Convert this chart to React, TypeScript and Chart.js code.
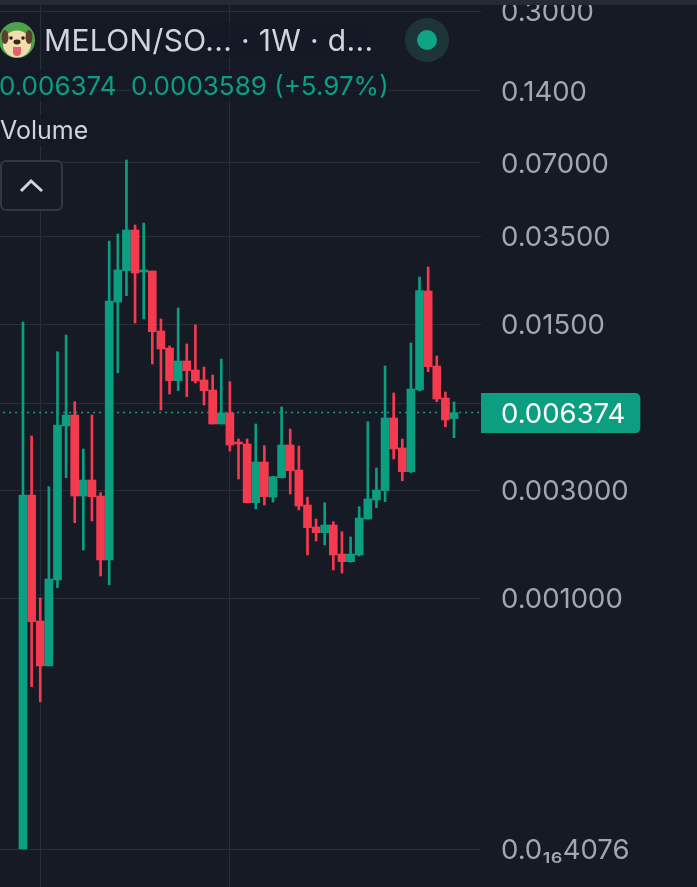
import { useEffect, useRef } from 'react'
import { Chart, Scale, registerables } from 'chart.js'

// one weekly candle per entry
const opens = [4.076e-17, 0.002851, 0.000791, 0.0005, 0.001201, 0.005595, 0.006228, 0.002822, 0.003307, 0.002822, 0.001472, 0.01854, 0.02506, 0.03705, 0.02475, 0.02499, 0.01402, 0.0119, 0.00868, 0.0105, 0.009624, 0.008739, 0.007935, 0.005706, 0.00635, 0.004788, 0.004696, 0.002636, 0.00394, 0.00279, 0.003382, 0.00465, 0.003645, 0.002575, 0.002059, 0.001943, 0.002101, 0.001564, 0.001447, 0.001549, 0.002233, 0.00271, 0.002979, 0.006049, 0.004516, 0.003585, 0.007935, 0.02061, 0.01, 0.007346, 0.006015]
const closes = [0.002851, 0.000785, 0.0005, 0.001213, 0.00565, 0.006228, 0.002822, 0.003307, 0.002802, 0.001472, 0.01872, 0.02523, 0.03705, 0.02451, 0.02523, 0.01393, 0.01179, 0.00868, 0.0105, 0.00956, 0.008655, 0.007883, 0.005706, 0.00635, 0.00465, 0.004696, 0.002636, 0.00394, 0.002802, 0.003415, 0.00465, 0.00362, 0.002549, 0.002044, 0.001943, 0.002101, 0.001549, 0.001447, 0.001564, 0.002256, 0.002738, 0.003, 0.006049, 0.004472, 0.003585, 0.008012, 0.02067, 0.009936, 0.007275, 0.005932, 0.006374]
const highs = [0.01529, 0.005076, 0.001, 0.003098, 0.01148, 0.01349, 0.00709, 0.004472, 0.006228, 0.00292, 0.03336, 0.03567, 0.07205, 0.03885, 0.0396, 0.02499, 0.01574, 0.01213, 0.0175, 0.01237, 0.01486, 0.009908, 0.009171, 0.0107, 0.008596, 0.00493, 0.00493, 0.005706, 0.004619, 0.00343, 0.006733, 0.005434, 0.004605, 0.00279, 0.002233, 0.002636, 0.002173, 0.001963, 0.00186, 0.002531, 0.005834, 0.003717, 0.01, 0.00771, 0.00493, 0.01249, 0.02359, 0.02597, 0.01102, 0.007784, 0.00707]
const lows = [4.076e-17, 0.000405, 0.000347, 0.0005, 0.001111, 0.003382, 0.002151, 0.00163, 0.002189, 0.001251, 0.001141, 0.009377, 0.0197, 0.01515, 0.01574, 0.0102, 0.006539, 0.007635, 0.007883, 0.007439, 0.00849, 0.006865, 0.005706, 0.005706, 0.004386, 0.003339, 0.00263, 0.002473, 0.002575, 0.002655, 0.00337, 0.00288, 0.002448, 0.001549, 0.001786, 0.001715, 0.00133, 0.001289, 0.001441, 0.001534, 0.002233, 0.002506, 0.002663, 0.004057, 0.003284, 0.00355, 0.00786, 0.009468, 0.00709, 0.005557, 0.004993]

// 0.007 has a grid line but its label sits under the price tag
const priceTicks = [4.076e-17, 0.001, 0.003, 0.007, 0.015, 0.035, 0.07, 0.14, 0.3]
const priceLabels = ['0.0₁₆4076', '0.001000', '0.003000', '', '0.01500', '0.03500', '0.07000', '0.1400', '0.3000']
const lastPrice = 0.006374
const lastPriceLabel = '0.006374'
const gridWeeks = [3, 25]

// the app's price axis is log with a squeezed tail, so map it through knots
const axisKnots = [
  { value: 4.076e-17, row: 849 },
  { value: 0.0003, row: 716 },
  { value: 0.001, row: 598 },
  { value: 0.003, row: 490 },
  { value: 0.007, row: 403 },
  { value: 0.015, row: 324 },
  { value: 0.035, row: 236 },
  { value: 0.07, row: 163 },
  { value: 0.14, row: 91 },
  { value: 0.3, row: 11 },
]
const CHART_HEIGHT = 887

const GREEN = '#0c9e81'
const RED = '#f33a4e'
const BG = '#161a25'
const GRID = '#2a2e38'
const FONT = 'Inter, "Noto Sans", sans-serif'
const AXIS_FONT_SIZE = 27.5

class PriceAxis extends Scale {
  static id = 'priceAxis'
  static defaults = {}

  determineDataLimits() {
    this.min = axisKnots[0].value
    this.max = axisKnots[axisKnots.length - 1].value
  }

  buildTicks() {
    return priceTicks.map(value => ({ value }))
  }

  getPixelForValue(value: number) {
    let i = 0
    while (i < axisKnots.length - 2 && value > axisKnots[i + 1].value) i++
    const a = axisKnots[i]
    const b = axisKnots[i + 1]
    const t = Math.log(value / a.value) / Math.log(b.value / a.value)
    const row = a.row + (b.row - a.row) * t
    return this.getPixelForDecimal(1 - row / CHART_HEIGHT)
  }

  getPixelForTick(index: number) {
    return this.getPixelForValue(this.ticks[index].value)
  }

  getValueForPixel() {
    return 0
  }
}

Chart.register(...registerables, PriceAxis)

const lastPriceTag = {
  id: 'lastPriceTag',
  afterDraw(chart: any) {
    const { ctx, chartArea, scales } = chart
    const y = scales.y.getPixelForValue(lastPrice)
    ctx.save()
    ctx.font = `${AXIS_FONT_SIZE}px ${FONT}`
    const width = ctx.measureText(lastPriceLabel).width
    ctx.fillStyle = GREEN
    ctx.beginPath()
    ctx.roundRect(chartArea.right, y - 19.5, width + 35, 40, [0, 5, 5, 0])
    ctx.fill()
    ctx.fillStyle = '#ffffff'
    ctx.textBaseline = 'middle'
    ctx.fillText(lastPriceLabel, chartArea.right + 20, y + 2)
    ctx.restore()
  },
}

function CandleChart() {
  const canvasRef = useRef<HTMLCanvasElement | null>(null)

  useEffect(() => {
    if (!canvasRef.current) return
    const colors = closes.map((close, i) => (close >= opens[i] ? GREEN : RED))
    const chart = new Chart(canvasRef.current, {
      type: 'bar',
      data: {
        datasets: [
          {
            label: 'body',
            order: 1,
            data: opens.map((open, i) => ({ x: i + 1, y: [open, closes[i]] })),
            backgroundColor: colors,
            barThickness: 8,
            minBarLength: 2,
            grouped: false,
          },
          {
            label: 'wick',
            order: 2,
            data: lows.map((low, i) => ({ x: i + 1, y: [low, highs[i]] })),
            backgroundColor: colors,
            barThickness: 2,
            grouped: false,
          },
          {
            type: 'line',
            label: 'last',
            order: 3,
            data: [
              { x: -2, y: lastPrice },
              { x: 55, y: lastPrice },
            ],
            borderColor: '#1a9c83',
            borderWidth: 1.5,
            borderDash: [2, 4],
            pointRadius: 0,
          },
        ] as any,
      },
      options: {
        animation: false,
        responsive: true,
        maintainAspectRatio: false,
        layout: { autoPadding: false, padding: 0 },
        plugins: { legend: { display: false }, tooltip: { enabled: false } },
        scales: {
          x: {
            type: 'linear',
            min: -1.668,
            max: 54.13,
            offset: false,
            border: { display: false },
            grid: { color: GRID, drawTicks: false, offset: false },
            ticks: { display: false },
            afterBuildTicks: (scale: any) => {
              scale.ticks = gridWeeks.map(value => ({ value }))
            },
            afterFit: (scale: any) => {
              scale.height = 0
            },
          },
          y: {
            type: 'priceAxis',
            position: 'right',
            border: { display: false },
            grid: { color: GRID, drawTicks: false },
            ticks: {
              autoSkip: false,
              padding: 20,
              labelOffset: 2,
              crossAlign: 'near',
              color: '#a3a6af',
              font: { family: FONT, size: AXIS_FONT_SIZE },
              callback: (_value: any, index: number) => priceLabels[index],
            },
            afterFit: (scale: any) => {
              scale.width = 216
              scale.paddingTop = 0
              scale.paddingBottom = 0
            },
          },
        } as any,
      },
      plugins: [lastPriceTag],
    })
    return () => chart.destroy()
  }, [])

  return <canvas ref={canvasRef} />
}

function Logo() {
  return (
    <svg width={36} height={36} viewBox="0 0 36 36" style={{ position: 'absolute', left: 0, top: 22 }}>
      <circle cx={17} cy={18} r={18} fill="#4da34c" />
      <ellipse cx={17} cy={22} rx={14} ry={13.5} fill="#f3dcae" />
      <ellipse cx={5} cy={15} rx={3.5} ry={7} fill="#5c3f2b" />
      <ellipse cx={29} cy={15} rx={3.5} ry={7} fill="#5c3f2b" />
      <circle cx={11} cy={16} r={1.8} fill="#2a1c14" />
      <circle cx={23} cy={16} r={1.8} fill="#2a1c14" />
      <ellipse cx={17} cy={20} rx={3.5} ry={2.4} fill="#3a2519" />
      <path d="M13 25 h8 v5 a4 4 0 0 1 -8 0 z" fill="#e2626b" />
    </svg>
  )
}

const textStyle = {
  position: 'absolute',
  whiteSpace: 'nowrap',
  fontFamily: FONT,
  background: 'rgba(22, 26, 37, 0.7)',
} as const

export default function App() {
  return (
    <div style={{ position: 'absolute', left: 0, top: 0, width: 697, height: 887, overflow: 'hidden', background: BG }}>
      <CandleChart />
      <div style={{ position: 'absolute', left: 0, top: 0, width: 697, height: 5, background: '#262a35' }} />
      <Logo />
      <div style={{ ...textStyle, left: 44, top: 22, fontSize: 30, letterSpacing: 0.35, lineHeight: '36px', color: '#d1d4dc' }}>
        MELON/SO... · 1W · d...
      </div>
      <div style={{ position: 'absolute', left: 405, top: 18, width: 44, height: 44, borderRadius: 22, background: '#1d3538' }} />
      <div style={{ position: 'absolute', left: 417, top: 30, width: 20, height: 20, borderRadius: 10, background: '#0da584' }} />
      <div style={{ ...textStyle, left: -1, top: 70, fontSize: 26, lineHeight: '32px', color: GREEN }}>
        0.006374
      </div>
      <div style={{ ...textStyle, left: 131, top: 70, fontSize: 26, lineHeight: '32px', color: GREEN }}>
        0.0003589 (+5.97%)
      </div>
      <div style={{ ...textStyle, left: 0, top: 114, fontSize: 25, lineHeight: '32px', color: '#d1d4dc' }}>
        Volume
      </div>
      <div
        style={{
          position: 'absolute',
          boxSizing: 'border-box',
          left: 0,
          top: 160,
          width: 63,
          height: 51,
          border: '2px solid #333742',
          borderRadius: 6,
          background: BG,
        }}
      >
        <svg width={59} height={47} viewBox="0 0 59 47" style={{ display: 'block' }}>
          <path d="M19 29 L29 19 L40 29" fill="none" stroke="#d1d4dc" strokeWidth={3} />
        </svg>
      </div>
    </div>
  )
}
